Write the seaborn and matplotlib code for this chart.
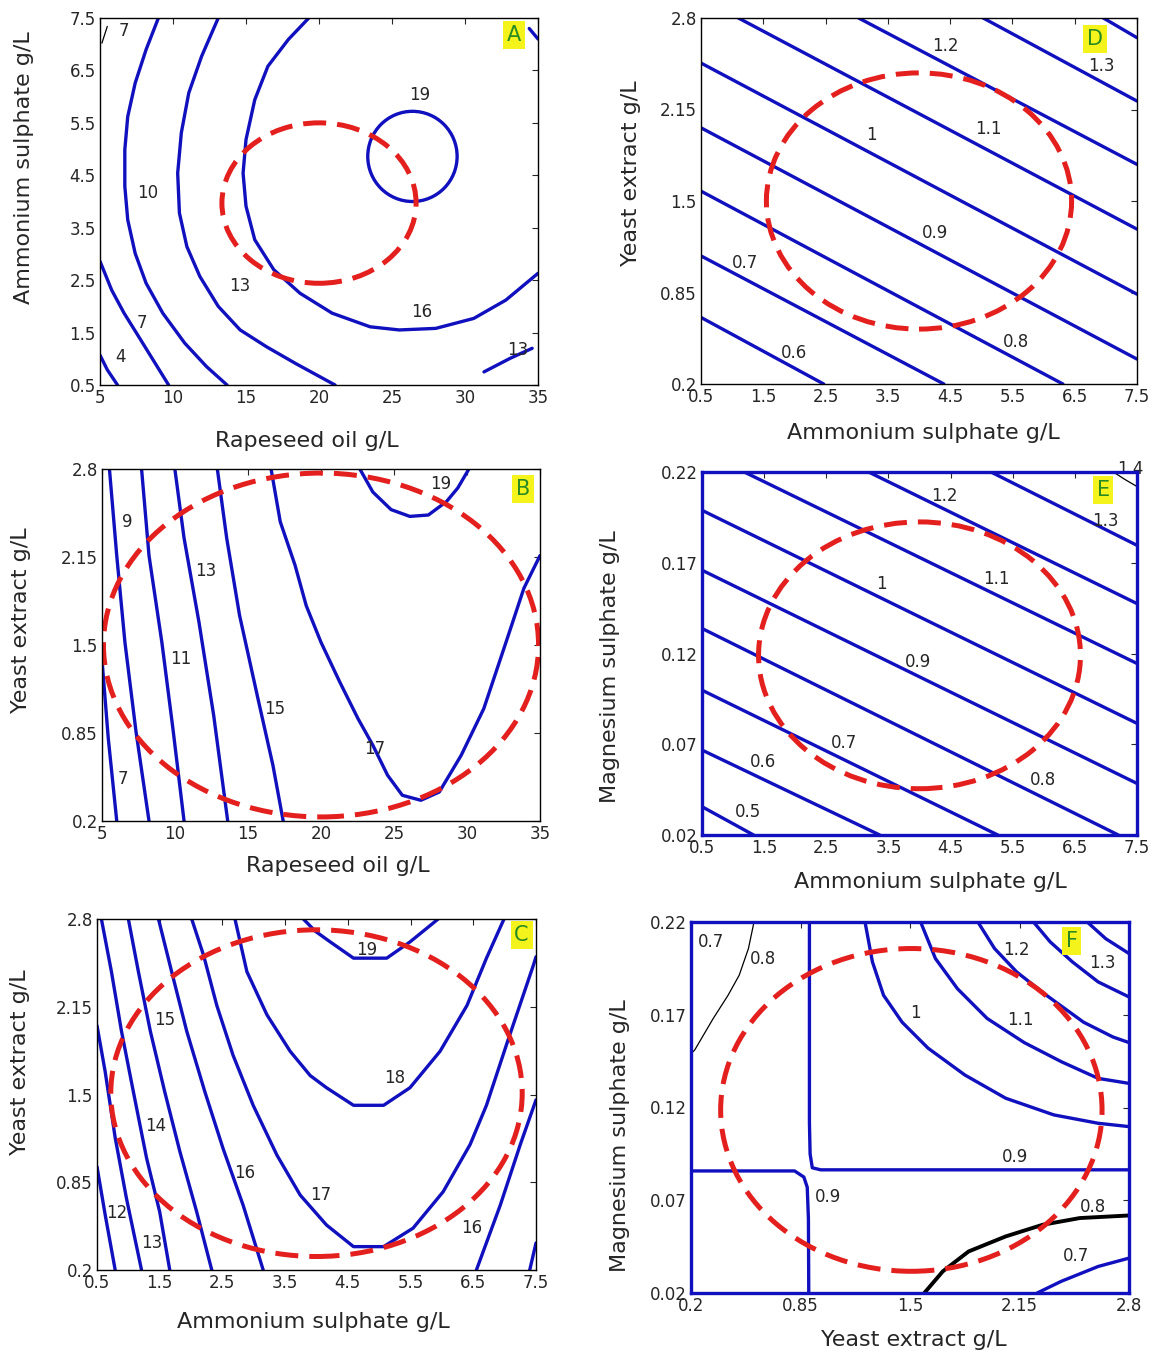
import matplotlib
matplotlib.use("Agg")
import matplotlib.pyplot as plt
from matplotlib.patches import Ellipse
import seaborn as sns

sns.set_style("white")
plt.rcParams["font.family"] = ["DejaVu Sans"]

BLUE = "#1010be"
RED = "#e3201e"
GREEN = "#2a8a22"
YELLOW = "#f4f41c"

# ---------------- panel A: rapeseed oil vs ammonium sulphate ----------------
A_BLUE = [
    ([5.0, 5.5, 6.2], [1.07, 0.79, 0.5]),
    ([5.0, 5.8, 6.65, 7.5, 8.5, 9.7], [2.86, 2.31, 1.87, 1.49, 1.04, 0.5]),
    ([9.0, 8.16, 7.41, 6.9, 6.7, 6.7, 6.9, 7.41, 8.16, 9.3, 10.8, 12.3, 13.7],
     [7.5, 6.9, 6.26, 5.62, 4.99, 4.29, 3.65, 3.01, 2.44, 1.87, 1.30, 0.85, 0.5]),
    ([13.1, 11.96, 11.08, 10.57, 10.32, 10.44, 10.95, 11.84, 13.1, 14.6, 16.4, 18.4, 21.1],
     [7.5, 6.77, 6.07, 5.31, 4.54, 3.78, 3.14, 2.57, 2.0, 1.55, 1.23, 0.91, 0.5]),
    ([19.3, 17.9, 16.5, 15.6, 15.0, 14.8, 15.0, 15.6, 16.9, 18.7, 20.9, 23.5, 25.5, 28.0, 30.6, 32.8, 35.0],
     [7.5, 7.09, 6.58, 5.94, 5.18, 4.54, 3.91, 3.27, 2.70, 2.25, 1.87, 1.61, 1.55, 1.58, 1.77, 2.12, 2.63]),
    ([31.3, 33.1, 34.6], [0.75, 1.01, 1.20]),
    ([34.4, 35.0], [7.3, 7.1]),
]
A_THIN = [([5.13, 5.5], [7.02, 7.34])]
A_RINGS = [(26.4, 4.86, 6.12, 1.72)]
A_LABELS = [("7", 6.65, 7.25), ("19", 26.9, 6.04), ("10", 8.3, 4.16), ("13", 14.6, 2.38),
            ("16", 27.0, 1.9), ("7", 7.9, 1.68), ("4", 6.4, 1.04), ("13", 33.6, 1.17)]
A_TARGET = (20.0, 3.97, 13.3, 3.06)

# ---------------- panel D: ammonium sulphate vs yeast extract ----------------
D_BLUE = [
    ([0.5, 2.47], [0.673, 0.2]),
    ([0.5, 4.4], [1.11, 0.2]),
    ([0.5, 6.31], [1.57, 0.2]),
    ([0.5, 7.5], [2.02, 0.377]),
    ([0.5, 7.5], [2.48, 0.838]),
    ([1.1, 7.5], [2.8, 1.30]),
    ([3.03, 7.5], [2.8, 1.76]),
    ([5.03, 7.5], [2.8, 2.21]),
    ([6.96, 7.5], [2.8, 2.66]),
]
D_LABELS = [("1.2", 4.43, 2.6), ("1.3", 6.93, 2.46), ("1", 3.24, 1.97), ("1.1", 5.12, 2.01),
            ("0.9", 4.25, 1.275), ("0.7", 1.21, 1.06), ("0.8", 5.56, 0.495), ("0.6", 1.99, 0.42)]
D_TARGET = (4.0, 1.5, 4.9, 1.82)

# ---------------- panel B: rapeseed oil vs yeast extract ----------------
B_BLUE = [
    ([5.0, 5.43, 6.01], [1.39, 0.81, 0.2]),
    ([5.51, 6.01, 6.57, 7.33, 8.22], [2.8, 2.16, 1.52, 0.86, 0.2]),
    ([7.71, 8.22, 9.10, 9.86, 10.62], [2.8, 2.16, 1.52, 0.88, 0.2]),
    ([9.99, 10.62, 11.64, 12.65, 13.61], [2.8, 2.29, 1.67, 0.98, 0.2]),
    ([12.9, 13.54, 14.42, 15.69, 16.71, 17.41], [2.8, 2.29, 1.72, 1.10, 0.61, 0.2]),
    ([16.58, 17.21, 18.22, 18.99, 20.0, 21.27, 22.53, 23.55, 24.56, 25.57, 26.84, 28.1, 29.6, 31.15, 32.67, 33.9, 35.0],
     [2.8, 2.41, 2.09, 1.79, 1.52, 1.23, 0.957, 0.76, 0.538, 0.39, 0.353, 0.414, 0.685, 1.03, 1.52, 1.92, 2.16]),
    ([22.66, 23.55, 24.8, 26.08, 27.35, 28.6, 29.37, 30.13], [2.8, 2.63, 2.50, 2.45, 2.46, 2.56, 2.66, 2.8]),
]
B_LABELS = [("9", 6.70, 2.41), ("13", 12.14, 2.05), ("11", 10.37, 1.40), ("15", 16.83, 1.03),
            ("17", 23.67, 0.735), ("7", 6.44, 0.51), ("19", 28.2, 2.69)]
B_TARGET = (20.0, 1.5, 29.8, 2.54)

# ---------------- panel E: ammonium sulphate vs magnesium sulphate ----------------
E_BLUE = [
    ([0.5, 1.33], [0.0356, 0.02]),
    ([0.5, 3.36], [0.0668, 0.02]),
    ([0.5, 5.26], [0.0998, 0.02]),
    ([0.5, 7.20], [0.1338, 0.02]),
    ([0.5, 7.5], [0.1659, 0.0484]),
    ([0.5, 7.5], [0.1989, 0.0815]),
    ([1.18, 7.5], [0.22, 0.1145]),
    ([3.18, 7.5], [0.22, 0.1475]),
    ([5.15, 7.5], [0.22, 0.1796]),
]
E_THIN = [([7.12, 7.3, 7.5], [0.22, 0.216, 0.212])]
E_LABELS = [("1.2", 4.40, 0.207), ("1.3", 6.99, 0.193), ("1", 3.39, 0.1585), ("1.1", 5.23, 0.161),
            ("0.9", 3.98, 0.1154), ("0.7", 2.79, 0.0705), ("0.6", 1.48, 0.0604), ("0.8", 5.98, 0.0503),
            ("0.5", 1.24, 0.0328), ("1.4", 7.39, 0.2215)]
E_TARGET = (4.0, 0.119, 5.18, 0.147)

# ---------------- panel C: ammonium sulphate vs yeast extract ----------------
C_BLUE = [
    ([0.5, 0.63, 0.79], [0.965, 0.61, 0.2]),
    ([0.5, 0.63, 0.79, 0.97, 1.21], [2.01, 1.67, 1.18, 0.73, 0.2]),
    ([0.57, 0.73, 0.89, 1.08, 1.29, 1.50, 1.66], [2.8, 2.41, 1.97, 1.52, 1.03, 0.63, 0.2]),
    ([1.0, 1.16, 1.35, 1.58, 1.82, 2.09, 2.33], [2.8, 2.41, 1.97, 1.52, 1.08, 0.63, 0.2]),
    ([1.48, 1.69, 1.93, 2.22, 2.51, 2.83, 3.15], [2.8, 2.41, 1.97, 1.52, 1.10, 0.68, 0.2]),
    ([2.01, 2.20, 2.41, 2.67, 2.99, 3.37, 3.74, 4.16, 4.59, 5.07, 5.54, 6.02, 6.45, 6.71, 7.03, 7.46, 7.5],
     [2.8, 2.53, 2.16, 1.79, 1.42, 1.05, 0.755, 0.533, 0.373, 0.373, 0.51, 0.78, 1.13, 1.42, 1.87, 2.46, 2.52]),
    ([2.70, 2.89, 3.21, 3.58, 3.90, 4.16, 4.59, 5.07, 5.49, 5.97, 6.40, 6.71, 6.99],
     [2.8, 2.41, 2.09, 1.82, 1.64, 1.55, 1.42, 1.42, 1.55, 1.82, 2.16, 2.51, 2.8]),
    ([3.79, 3.98, 4.22, 4.59, 5.12, 5.49, 5.94], [2.8, 2.71, 2.63, 2.51, 2.51, 2.63, 2.8]),
    ([6.55, 6.93, 7.25, 7.5], [0.2, 0.68, 1.13, 1.46]),
    ([7.40, 7.5], [0.2, 0.40]),
]
C_LABELS = [("19", 4.80, 2.57), ("15", 1.58, 2.05), ("18", 5.24, 1.62), ("14", 1.43, 1.27),
            ("16", 2.85, 0.916), ("17", 4.06, 0.756), ("12", 0.81, 0.62), ("13", 1.37, 0.40),
            ("16", 6.48, 0.51)]
C_TARGET = (4.0, 1.51, 6.56, 2.42)

# ---------------- panel F: yeast extract vs magnesium sulphate ----------------
F_BLUE = [
    ([0.903, 0.903, 0.907, 0.92, 0.97, 2.8], [0.22, 0.112, 0.095, 0.0875, 0.0864, 0.0864]),
    ([0.2, 0.815, 0.87, 0.89, 0.897, 0.899], [0.0858, 0.0858, 0.0825, 0.077, 0.06, 0.02]),
    ([1.233, 1.277, 1.343, 1.453, 1.607, 1.826, 2.068, 2.354, 2.617, 2.8],
     [0.22, 0.1985, 0.1805, 0.166, 0.152, 0.1375, 0.125, 0.116, 0.1115, 0.1097]),
    ([1.563, 1.651, 1.782, 1.958, 2.178, 2.398, 2.617, 2.8],
     [0.22, 0.2003, 0.184, 0.168, 0.155, 0.1447, 0.1357, 0.133]),
    ([1.903, 2.002, 2.134, 2.31, 2.53, 2.705, 2.8], [0.22, 0.2057, 0.193, 0.1805, 0.166, 0.158, 0.155]),
    ([2.233, 2.332, 2.464, 2.617, 2.8], [0.22, 0.2093, 0.1985, 0.1877, 0.1796]),
    ([2.552, 2.662, 2.8], [0.22, 0.211, 0.203]),
    ([2.255, 2.398, 2.617, 2.8], [0.02, 0.0263, 0.0343, 0.0388]),
]
F_THIN = [([0.574, 0.541, 0.486, 0.42, 0.332, 0.222, 0.2], [0.22, 0.2057, 0.1913, 0.1805, 0.168, 0.151, 0.149])]
F_THICK = [([1.585, 1.695, 1.848, 2.068, 2.288, 2.508, 2.8], [0.02, 0.0317, 0.0424, 0.0505, 0.0568, 0.0604, 0.0618])]
F_LABELS = [("0.7", 0.321, 0.209), ("0.8", 0.629, 0.200), ("1.2", 2.134, 0.2048), ("1.3", 2.64, 0.198),
            ("1", 1.53, 0.171), ("1.1", 2.156, 0.167), ("0.9", 2.123, 0.0935), ("0.9", 1.013, 0.072),
            ("0.8", 2.585, 0.0666), ("0.7", 2.486, 0.0397)]
F_TARGET = (1.508, 0.1187, 2.264, 0.174)

# axis ranges / ticks
OIL_TICKS = [5, 10, 15, 20, 25, 30, 35]
AMM_TICKS = [0.5, 1.5, 2.5, 3.5, 4.5, 5.5, 6.5, 7.5]
YEAST_TICKS = [0.2, 0.85, 1.5, 2.15, 2.8]
MAG_TICKS = [0.02, 0.07, 0.12, 0.17, 0.22]

OIL = "Rapeseed oil g/L"
AMM = "Ammonium sulphate g/L"
YEAST = "Yeast extract g/L"
MAG = "Magnesium sulphate g/L"

fig = plt.figure(figsize=(11.63, 13.58), dpi=100)
W, H = 1163.0, 1358.0


def rect(l, r, t, b):
    return [l / W, 1 - b / H, (r - l) / W, (b - t) / H]


def draw_panel(box, xt, yt, xlab, ylab, xlab_at, ylab_at, blue, labels, target, letter, letter_at,
               thin=(), thick=(), rings=(), frame="black", frame_lw=1.0):
    ax = fig.add_axes(box)
    for xs, ys in blue:
        sns.lineplot(x=xs, y=ys, sort=False, estimator=None, color=BLUE, linewidth=2.4, ax=ax)
    for xs, ys in thin:
        sns.lineplot(x=xs, y=ys, sort=False, estimator=None, color="black", linewidth=0.9, ax=ax)
    for xs, ys in thick:
        sns.lineplot(x=xs, y=ys, sort=False, estimator=None, color="black", linewidth=2.8, ax=ax)
    for cx, cy, w, h in rings:
        ax.add_patch(Ellipse((cx, cy), w, h, fill=False, edgecolor=BLUE, lw=2.4, zorder=3))
    cx, cy, w, h = target
    ax.add_patch(Ellipse((cx, cy), w, h, fill=False, edgecolor=RED, lw=3.6,
                         linestyle=(0, (4.6, 2.2)), zorder=4))
    for txt, x, y in labels:
        ax.text(x, y, txt, fontsize=12, ha="center", va="center", zorder=5)
    ax.set_xlim(xt[0], xt[-1])
    ax.set_ylim(yt[0], yt[-1])
    ax.set_xticks(xt)
    ax.set_xticklabels([f"{v:g}" for v in xt])
    ax.set_yticks(yt)
    ax.set_yticklabels([f"{v:g}" for v in yt])
    ax.tick_params(direction="in", length=4, width=0.8, top=True, right=True,
                   labelsize=12, pad=3)
    for s in ax.spines.values():
        s.set_color(frame)
        s.set_linewidth(frame_lw)
        s.set_zorder(6)
    ax.set_xlabel(xlab, fontsize=16, va="center")
    ax.set_ylabel(ylab, fontsize=16, va="center")
    ax.xaxis.set_label_coords(*xlab_at)
    ax.yaxis.set_label_coords(*ylab_at)
    ax.text(letter_at[0], letter_at[1], letter, transform=ax.transAxes, fontsize=15,
            color=GREEN, ha="center", va="center", zorder=7,
            bbox=dict(boxstyle="square,pad=0.18", facecolor=YELLOW, edgecolor="none"))
    return ax


draw_panel(rect(100, 538, 18, 385), OIL_TICKS, AMM_TICKS, OIL, AMM, (0.473, -0.153), (-0.174, 0.591),
           A_BLUE, A_LABELS, A_TARGET, "A", (0.945, 0.953), thin=A_THIN, rings=A_RINGS)
draw_panel(rect(701, 1137, 18, 384), AMM_TICKS, YEAST_TICKS, AMM, YEAST, (0.511, -0.134), (-0.161, 0.577),
           D_BLUE, D_LABELS, D_TARGET, "D", (0.904, 0.943))
draw_panel(rect(102, 540, 469, 821), OIL_TICKS, YEAST_TICKS, OIL, YEAST, (0.539, -0.128), (-0.185, 0.571),
           B_BLUE, B_LABELS, B_TARGET, "B", (0.961, 0.943))
draw_panel(rect(702, 1137, 472, 835), AMM_TICKS, MAG_TICKS, AMM, MAG, (0.526, -0.129), (-0.212, 0.463),
           E_BLUE, E_LABELS, E_TARGET, "E", (0.922, 0.950), thin=E_THIN, frame=BLUE, frame_lw=2.4)
draw_panel(rect(97, 536, 919, 1270), AMM_TICKS, YEAST_TICKS, AMM, YEAST, (0.494, -0.148), (-0.175, 0.593),
           C_BLUE, C_LABELS, C_TARGET, "C", (0.967, 0.954))
draw_panel(rect(691, 1129, 922, 1293), YEAST_TICKS, MAG_TICKS, YEAST, MAG, (0.509, -0.127), (-0.162, 0.423),
           F_BLUE, F_LABELS, F_TARGET, "F", (0.869, 0.949), thin=F_THIN, thick=F_THICK,
           frame=BLUE, frame_lw=2.4)

fig.savefig("out.png", dpi=100)
